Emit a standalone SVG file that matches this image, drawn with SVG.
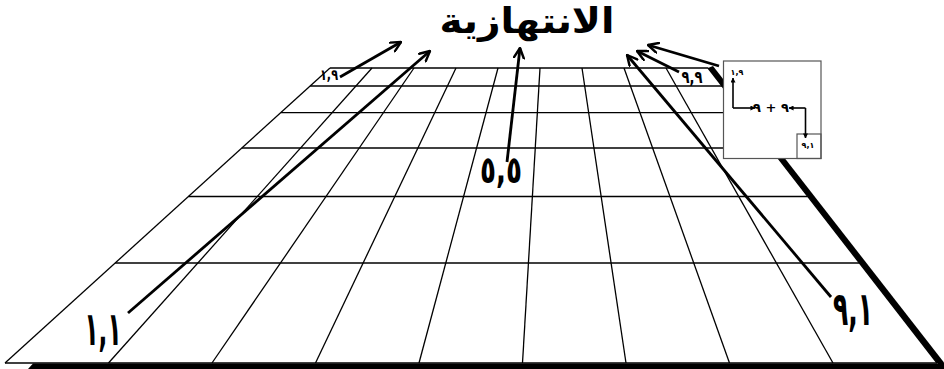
<svg xmlns="http://www.w3.org/2000/svg" width="944" height="369" viewBox="0 0 944 369">
<style>
.g{stroke:#000;stroke-width:1.3;fill:none}
.ar{stroke:#000;stroke-width:2.8;fill:none;marker-end:url(#ah)}
.ia{stroke:#000;stroke-width:1.6;fill:none;marker-end:url(#sh)}
.t{font-family:"DejaVu Sans",sans-serif;font-weight:bold;fill:#000;text-anchor:middle}
</style>
<defs>
<marker id="ah" viewBox="0 0 12 12" refX="11" refY="6" markerWidth="12" markerHeight="12" markerUnits="userSpaceOnUse" orient="auto">
<path d="M1,1 L11,6 L1,11" fill="none" stroke="#000" stroke-width="2.4" stroke-linecap="round" stroke-linejoin="round"/>
</marker>
<marker id="sh" viewBox="0 0 6 6" refX="5.5" refY="3" markerWidth="5" markerHeight="5" markerUnits="userSpaceOnUse" orient="auto">
<path d="M0,0 L6,3 L0,6 Z" fill="#000"/>
</marker>
</defs>
<rect width="944" height="369" fill="#fff"/>
<g id="board">
<g class="g">
<line x1="330" y1="68" x2="708" y2="68"/>
<line x1="310.2" y1="86" x2="722" y2="86"/>
<line x1="280.8" y1="112.7" x2="742.7" y2="112.7"/>
<line x1="241.9" y1="148" x2="770.1" y2="148"/>
<line x1="188.4" y1="196.5" x2="807.8" y2="196.5"/>
<line x1="115.2" y1="263" x2="859.4" y2="263"/>
<line x1="5" y1="363" x2="937" y2="363"/>
<line x1="330" y1="68" x2="5" y2="363"/>
<line x1="372" y1="68" x2="108.5" y2="363"/>
<line x1="414" y1="68" x2="212" y2="363"/>
<line x1="456" y1="68" x2="315.5" y2="363"/>
<line x1="498" y1="68" x2="419" y2="363"/>
<line x1="540" y1="68" x2="522.5" y2="363"/>
<line x1="582" y1="68" x2="626" y2="363"/>
<line x1="624" y1="68" x2="729.5" y2="363"/>
<line x1="666" y1="68" x2="833" y2="363"/>
<line x1="708" y1="68" x2="937" y2="363"/>
</g>
<polygon points="708,68 713,66 949,369 941.7,369" fill="#000"/>
<polygon points="33,363.5 940,363.5 944,369 28,369" fill="#000"/>
</g>
<g id="title"><text class="t" x="527" y="33" font-size="35" textLength="175" lengthAdjust="spacingAndGlyphs">الانتهازية</text></g>
<g id="n19"><text class="t" x="329" y="80" font-size="15" textLength="18" lengthAdjust="spacingAndGlyphs">١,٩</text></g>
<g id="n99"><text class="t" x="692" y="83" font-size="17" textLength="21" lengthAdjust="spacingAndGlyphs">٩,٩</text></g>
<g id="n11"><text class="t" x="103" y="345" font-size="47" textLength="37" lengthAdjust="spacingAndGlyphs">١,١</text></g>
<g id="n91"><text class="t" x="853" y="325" font-size="47" textLength="40" lengthAdjust="spacingAndGlyphs">٩,١</text></g>
<g id="n55"><text class="t" x="501" y="183" font-size="38" textLength="42" lengthAdjust="spacingAndGlyphs">٥,٥</text></g>
<g id="connectors">
<line class="ar" x1="340" y1="77" x2="401" y2="42"/>
<line class="ar" x1="128" y1="313" x2="430" y2="51"/>
<line class="ar" x1="507" y1="162" x2="520" y2="48"/>
<line class="ar" x1="679" y1="72" x2="637" y2="51"/>
<line class="ar" x1="831" y1="297" x2="627" y2="55"/>
<line class="ar" x1="719" y1="66" x2="648" y2="45"/>
</g>
<g id="inset">
<rect x="723.5" y="61" width="97.5" height="97.5" fill="#fff" stroke="#555" stroke-width="1.2"/>
<rect x="797" y="134" width="24" height="24.5" fill="none" stroke="#555" stroke-width="1.2"/>
<text class="t" x="737" y="75" font-size="8">١,٩</text>
<text class="t" x="771" y="112" font-size="13">٩ + ٩</text>
<text class="t" x="808" y="148" font-size="8">٩,١</text>
<g id="inset-connectors">
<path class="ia" d="M733,108 V78"/>
<path class="ia" d="M733,108 H755"/>
<path class="ia" d="M805.5,108 V138"/>
<path class="ia" d="M805.5,108 H789"/>
</g>
</g>
</svg>
